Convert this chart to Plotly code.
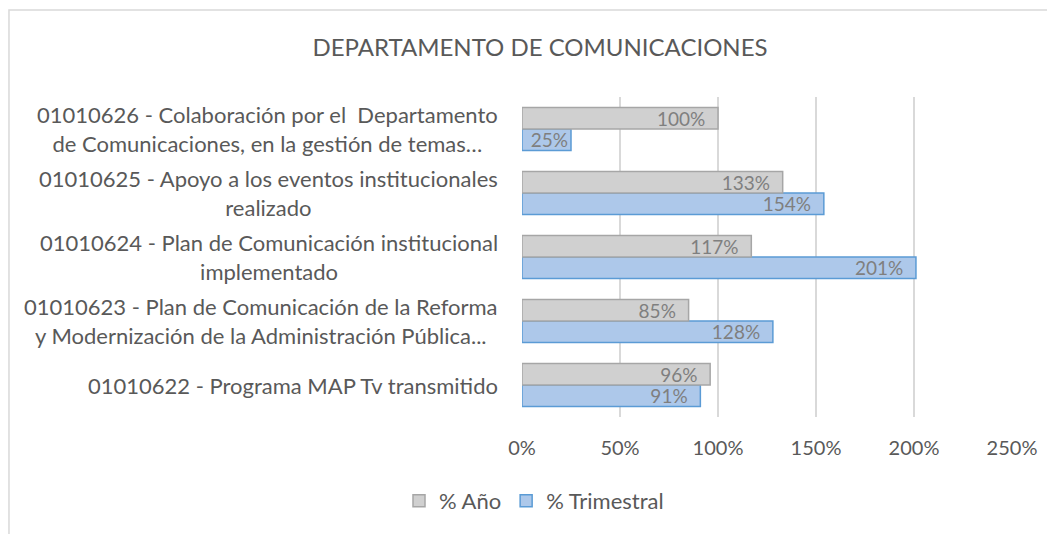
import plotly.graph_objects as go

categories = [
    "01010622 - Programa MAP Tv transmitido",
    "01010623 - Plan de Comunicación de la Reforma<br>y Modernización de la Administración Pública...",
    "01010624 - Plan de Comunicación institucional<br>implementado",
    "01010625 - Apoyo a los eventos institucionales<br>realizado",
    "01010626 - Colaboración por el  Departamento<br>de Comunicaciones, en la gestión de temas…",
]
anio = [96, 85, 117, 133, 100]
trimestral = [91, 128, 201, 154, 25]
x_ticks = [0, 50, 100, 150, 200, 250]
x_tick_text = ["0%", "50%", "100%", "150%", "200%", "250%"]

FONT = "Lato"
TXT = "#595959"
LBL = "#7f7f7f"
PAD = "\u00a0\u00a0"

# page has an 8px body margin, so the figure is 8px smaller than the window
W, H = 1047, 526
OFF = 8


def label(v):
    return f"{v}%" + (PAD if v >= 40 else "")


fig = go.Figure()
fig.add_trace(go.Bar(
    y=categories, x=trimestral, orientation="h", name="% Trimestral",
    marker=dict(color="#adc8ea", line=dict(color="#5b9bd5", width=1.5)),
    text=[label(v) for v in trimestral], textposition="inside",
    insidetextanchor="end", constraintext="none", textangle=0,
    textfont=dict(family=FONT, size=19, color=LBL), cliponaxis=False,
))
fig.add_trace(go.Bar(
    y=categories, x=anio, orientation="h", name="% Año",
    marker=dict(color="#d0d0d0", line=dict(color="#a6a6a6", width=1.5)),
    text=[label(v) for v in anio], textposition="inside",
    insidetextanchor="end", constraintext="none", textangle=0,
    textfont=dict(family=FONT, size=19, color=LBL), cliponaxis=False,
))

for c in categories:
    fig.add_annotation(
        x=-0.045, xref="paper", y=c, yref="y", text=c, showarrow=False,
        xanchor="right", yanchor="middle", align="center",
        font=dict(family=FONT, size=22, color=TXT),
    )

fig.add_shape(
    type="rect", xref="paper", yref="paper",
    x0=-1.047, x1=1.12, y0=-0.4, y1=1.272,
    line=dict(color="#d9d9d9", width=1.5), fillcolor="rgba(0,0,0,0)", layer="below",
)

fig.update_layout(
    width=W, height=H,
    margin=dict(l=522 - OFF, r=W - (1012 - OFF), t=97 - OFF, b=H - (417 - OFF)),
    paper_bgcolor="white", plot_bgcolor="white",
    barmode="group", bargap=0.33, bargroupgap=0,
    title=dict(text="DEPARTAMENTO DE COMUNICACIONES", x=(540 - OFF) / W, xref="container",
               xanchor="center", y=1 - (48 - OFF) / H, yref="container", yanchor="middle",
               font=dict(family=FONT, size=24, color=TXT)),
    xaxis=dict(range=[0, 250], tickvals=x_ticks, ticktext=x_tick_text, showgrid=True,
               gridcolor="#d9d9d9", gridwidth=2, zeroline=False, showline=False,
               ticks="", ticklabelstandoff=17,
               tickfont=dict(family=FONT, size=20, color=TXT)),
    yaxis=dict(showticklabels=False, showgrid=False, zeroline=False, showline=False,
               categoryorder="array", categoryarray=categories),
    legend=dict(orientation="h", traceorder="reversed", xref="container", yref="container",
                x=(534 - OFF) / W, xanchor="center", y=1 - (501 - OFF) / H, yanchor="middle",
                font=dict(family=FONT, size=22, color=TXT), itemwidth=30),
    showlegend=True,
)

fig.write_html("out.html")
